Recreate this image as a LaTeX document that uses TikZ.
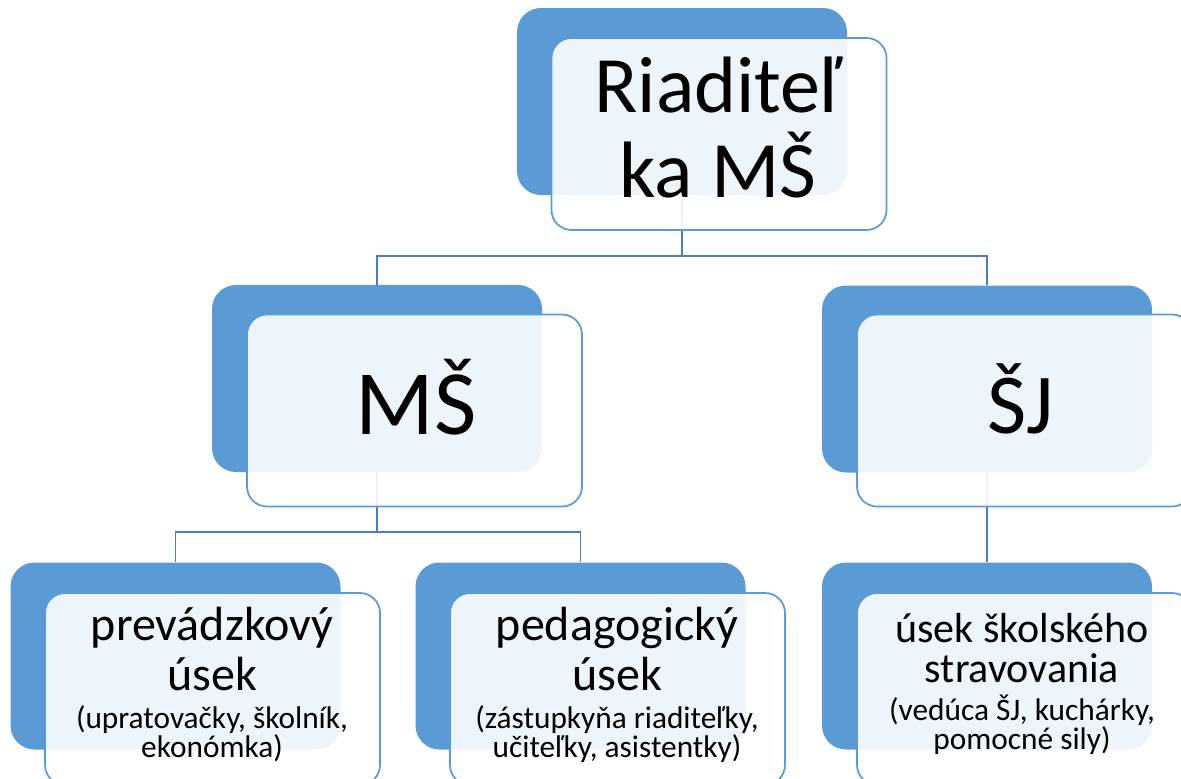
\documentclass[tikz,border=0pt]{standalone}
\usepackage{fontspec}
\setmainfont{Carlito}
\definecolor{boxblue}{HTML}{5B9BD5}
\definecolor{linkblue}{HTML}{4A7EBB}
\begin{document}
\begin{tikzpicture}[x=0.75pt,y=-0.75pt,
  back/.style={fill=boxblue, draw=none, rounded corners=18pt, minimum width=247.5pt, minimum height=140.25pt, inner sep=0pt},
  front/.style={fill=white, fill opacity=0.9, draw=boxblue, line width=1.3pt, rounded corners=15pt, minimum width=251.25pt, minimum height=144pt, inner sep=0pt},
  link/.style={draw=linkblue, line width=1.4pt},
  ln/.style={anchor=base, inner sep=0pt, text=black},
  huge/.style={font=\fontsize{60}{60}\selectfont},
  ms/.style={font=\fontsize{69}{69}\selectfont},
  sj/.style={font=\fontsize{64}{64}\selectfont},
  big/.style={font=\fontsize{36}{36}\selectfont},
  bigr/.style={font=\fontsize{31.5}{31.5}\selectfont},
  small/.style={align=center, font=\fontsize{23.5}{21.75}\selectfont}
]
\useasboundingbox (0,0) rectangle (1181,778);
\fill[white] (0,0) rectangle (1181,778);

% back boxes
\node[back] (topb) at (682,101.5) {};
\node[back] (msb) at (377,378.5) {};
\node[back] (sjb) at (987,379) {};
\node[back] (pb) at (175.5,656) {};
\node[back] (gb) at (580.5,656) {};
\node[back] (ub) at (987,656) {};

% connectors
\draw[link] (topb.south) -- ++(0,61) -| (msb.north);
\draw[link] (topb.south) -- ++(0,61) -| (sjb.north);
\draw[link] (msb.south) -- ++(0,60) -| (pb.north);
\draw[link] (msb.south) -- ++(0,60) -| (gb.north);
\draw[link] (sjb.south) -- (ub.north);

% front boxes
\node[front] (topf) at (719,134) {};
\node[front] (msf) at (414.5,410.5) {};
\node[front] (sjf) at (1024.5,410.5) {};
\node[front] (pf) at (212.5,689) {};
\node[front] (gf) at (617.5,689) {};
\node[front] (uf) at (1024.5,689) {};

% texts
\node[ln,huge] (t1a) at (718,112) {Riaditeľ};
\node[ln,huge] (t1b) at (718,197) {ka MŠ};
\node[ln,ms] (t2) at (416,434) {MŠ};
\node[ln,sj] (t3) at (1021,433) {ŠJ};

\node[ln,big] (t4a) at (212,640) {prevádzkový};
\node[ln,big] (t4b) at (212,690) {úsek};
\node[ln,small] (t4c) at (212,757) {(upratovačky, školník,\\ekonómka)};

\node[ln,big] (t5a) at (617,640) {pedagogický};
\node[ln,big] (t5b) at (617,690) {úsek};
\node[ln,small] (t5c) at (617,757) {(zástupkyňa riaditeľky,\\učiteľky, asistentky)};

\node[ln,bigr] (t6a) at (1022,642) {úsek školského};
\node[ln,bigr] (t6b) at (1022,682) {stravovania};
\node[ln,small] (t6c) at (1022,749) {(vedúca ŠJ, kuchárky,\\pomocné sily)};
\end{tikzpicture}
\end{document}
